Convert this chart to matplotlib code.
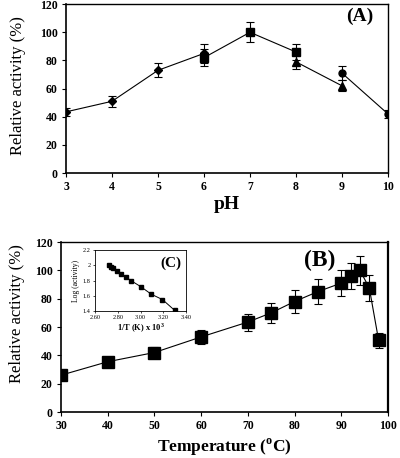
import matplotlib
matplotlib.use("Agg")
from matplotlib import pyplot as plt

plt.rcParams['font.family'] = 'Liberation Serif'

# panel A: activity vs pH, one series per buffer
ph_diamond = [3, 4, 5, 6]
act_diamond = [43.5, 51, 73, 85]
err_diamond = [3, 4, 5, 7]
ph_square = [6, 7, 8]
act_square = [82, 100, 86]
err_square = [6, 7, 6]
ph_triangle = [8, 9]
act_triangle = [79, 62]
err_triangle = [5, 4]
ph_circle = [9, 10]
act_circle = [71, 42]
err_circle = [5, 3]

# panel B: activity vs temperature
temp = [30, 40, 50, 60, 70, 75, 80, 85, 90, 92, 94, 96, 98]
act_temp = [26, 35.5, 42, 53, 63.5, 70, 78, 85, 91, 96, 100, 87.5, 50.5]
err_temp = [2, 2, 4, 5, 6, 7, 8, 9, 9, 9, 10, 9, 5]

# panel C: Arrhenius inset
inv_t = [2.724, 2.739, 2.754, 2.792, 2.832, 2.873, 2.915, 3.002, 3.095, 3.193, 3.299]
log_act = [2.00, 1.98, 1.96, 1.93, 1.89, 1.845, 1.80, 1.72, 1.62, 1.55, 1.41]

fig = plt.figure(figsize=(4, 4.58), dpi=100)

ax1 = fig.add_axes([0.165, 0.622, 0.805, 0.369])
ek = dict(color='black', lw=0.8, ecolor='black', elinewidth=0.8, capsize=3, capthick=0.8)
ax1.errorbar(ph_diamond, act_diamond, yerr=err_diamond, marker='D', ms=4.5, **ek)
ax1.errorbar(ph_square, act_square, yerr=err_square, marker='s', ms=5.5, **ek)
ax1.errorbar(ph_triangle, act_triangle, yerr=err_triangle, marker='^', ms=5.5, **ek)
ax1.errorbar(ph_circle, act_circle, yerr=err_circle, marker='o', ms=5, **ek)
ax1.set_xlim(3, 10)
ax1.set_ylim(0, 120)
ax1.set_xticks(range(3, 11))
ax1.set_yticks(range(0, 121, 20))
ax1.set_xlabel('pH', fontsize=14, fontweight='bold', labelpad=2)
ax1.set_ylabel('Relative activity (%)', fontsize=12)
ax1.yaxis.set_label_coords(-0.125, 0.52)
ax1.text(0.955, 0.93, '(A)', transform=ax1.transAxes, ha='right', va='center',
         fontsize=14, fontweight='bold')

ax2 = fig.add_axes([0.1525, 0.1004, 0.8175, 0.3712])
ax2.errorbar(temp, act_temp, yerr=err_temp, marker='s', ms=8, **ek)
ax2.set_xlim(30, 100)
ax2.set_ylim(0, 120)
ax2.set_xticks(range(30, 101, 10))
ax2.set_yticks(range(0, 121, 20))
ax2.set_xlabel('Temperature ($^{\\mathregular{o}}$C)', fontsize=12.5, fontweight='bold', labelpad=3)
ax2.set_ylabel('Relative activity (%)', fontsize=12)
ax2.yaxis.set_label_coords(-0.11, 0.58)
ax2.text(0.84, 0.89, '(B)', transform=ax2.transAxes, ha='right', va='center',
         fontsize=17, fontweight='bold')

for ax in (ax1, ax2):
    ax.tick_params(direction='out', length=3, width=0.8, pad=3)
    for lab in ax.get_xticklabels() + ax.get_yticklabels():
        lab.set_fontsize(8.5)
        lab.set_fontweight('bold')
    for s in ax.spines.values():
        s.set_linewidth(1.0)
    ax.spines['left'].set_linewidth(1.2)
    ax.spines['bottom'].set_linewidth(1.2)
ax2.spines['right'].set_linewidth(1.6)

ax3 = fig.add_axes([0.2375, 0.321, 0.2275, 0.133])
ax3.plot(inv_t, log_act, color='black', lw=0.7, marker='s', ms=2.5)
ax3.set_xlim(2.6, 3.4)
ax3.set_ylim(1.4, 2.2)
ax3.set_xticks([2.6, 2.8, 3.0, 3.2, 3.4])
ax3.set_xticklabels(['2.60', '2.80', '3.00', '3.20', '3.40'])
ax3.set_yticks([1.4, 1.6, 1.8, 2.0, 2.2])
ax3.set_yticklabels(['1.4', '1.6', '1.8', '2', '2.2'])
ax3.tick_params(direction='out', length=1.5, width=0.5, pad=1.5, labelsize=4.5)
ax3.set_xlabel('1/T (K) x 10$^{\\mathregular{3}}$', fontsize=6, fontweight='bold', labelpad=1)
ax3.set_ylabel('Log (activity)', fontsize=5.5, labelpad=2)
ax3.text(0.95, 0.78, '(C)', transform=ax3.transAxes, ha='right', va='center',
         fontsize=11, fontweight='bold')
for s in ax3.spines.values():
    s.set_linewidth(0.6)

fig.savefig('out.png', dpi=100)
